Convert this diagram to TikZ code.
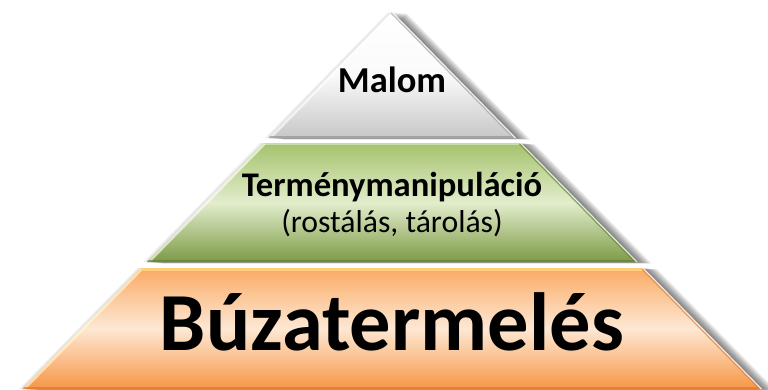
\documentclass[tikz,border=0pt]{standalone}
\usepackage{fontspec}
\setmainfont{Carlito}
\begin{document}
\begin{tikzpicture}[x=1pt,y=-1pt]
\useasboundingbox (0,0) rectangle (768,389);
\def\toppath{(392,12) -- (515.5,138) -- (268.5,138) -- cycle}
\def\midpath{(263.6,143) -- (520.4,143) -- (637,262) -- (147,262) -- cycle}
\def\botpath{(141.1,268) -- (642.9,268) -- (761.5,389) -- (22.5,389) -- cycle}
\tikzset{
  shadowfill/.style={fill=black,opacity=0.05},
  txtbold/.style={anchor=base,font=\bfseries\fontsize{#1}{#1}\selectfont},
  txtreg/.style={anchor=base,font=\fontsize{#1}{#1}\selectfont},
  lightedge/.style={draw=white,opacity=0.65,line width=5pt},
  darkedge/.style={opacity=0.7,line width=5pt},
  rimline/.style={draw=white,opacity=0.8,line width=1.2pt}
}
% soft shadows
\foreach \i in {1,...,13}{
  \fill[shadowfill,xshift=\i*1.15pt,yshift=-\i*0.12pt] \toppath;
  \fill[shadowfill,xshift=\i*1.15pt,yshift=-\i*0.12pt] \midpath;
  \fill[shadowfill,xshift=\i*1.15pt,yshift=-\i*0.12pt] \botpath;
}
\foreach \i in {1,...,4}{
  \fill[black,opacity=0.03,xshift=-\i*1pt] \toppath;
  \fill[black,opacity=0.03,xshift=-\i*1pt] \midpath;
  \fill[black,opacity=0.03,xshift=-\i*1pt] \botpath;
}
% top layer
\shade[top color=white,bottom color=black!22,middle color=black!2] \toppath;
\begin{scope}
  \clip \toppath;
  \draw[lightedge] (392,12) -- (268.5,138);
  \draw[darkedge,draw=black!42] (268.5,138) -- (515.5,138);
  \draw[darkedge,draw=black!35,line width=4pt] (392,12) -- (515.5,138);
\end{scope}
\draw[rimline] (392,12) -- (515.5,138);
% middle layer
\shade[top color={rgb,255:red,165;green,194;blue,108},bottom color={rgb,255:red,125;green,154;blue,70},middle color={rgb,255:red,226;green,237;blue,204}] \midpath;
\begin{scope}
  \clip \midpath;
  \draw[lightedge] (263.6,143) -- (147,262);
  \draw[lightedge,opacity=0.4,line width=4pt] (263.6,143) -- (520.4,143);
  \draw[darkedge,draw={rgb,255:red,100;green,128;blue,50}] (147,262) -- (637,262);
  \draw[darkedge,draw={rgb,255:red,105;green,135;blue,55},line width=4pt] (520.4,143) -- (637,262);
\end{scope}
\draw[rimline] (520.4,143) -- (637,262);
% bottom layer
\shade[top color={rgb,255:red,250;green,170;blue,100},bottom color={rgb,255:red,247;green,150;blue,70},middle color={rgb,255:red,253;green,232;blue,212}] \botpath;
\begin{scope}
  \clip \botpath;
  \draw[lightedge,draw={rgb,255:red,255;green,250;blue,210}] (141.1,268) -- (22.5,389);
  \draw[lightedge,draw={rgb,255:red,255;green,215;blue,130},opacity=0.8,line width=6pt] (141.1,268) -- (642.9,268);
  \draw[darkedge,draw={rgb,255:red,220;green,120;blue,50}] (22.5,389) -- (761.5,389);
  \draw[darkedge,draw={rgb,255:red,225;green,130;blue,60},line width=4pt] (642.9,268) -- (761.5,389);
\end{scope}
\draw[rimline] (642.9,268) -- (761.5,389);
% texts
\node[txtbold=36.5] (malom) at (392,92) {Malom};
\node[txtbold=34.6] (term) at (392,196) {Terménymanipuláció};
\node[txtreg=31.7] (rost) at (392,232) {(rostálás, tárolás)};
\node[txtbold=82.5] (buza) at (392,350) {Búzatermelés};
\end{tikzpicture}
\end{document}
